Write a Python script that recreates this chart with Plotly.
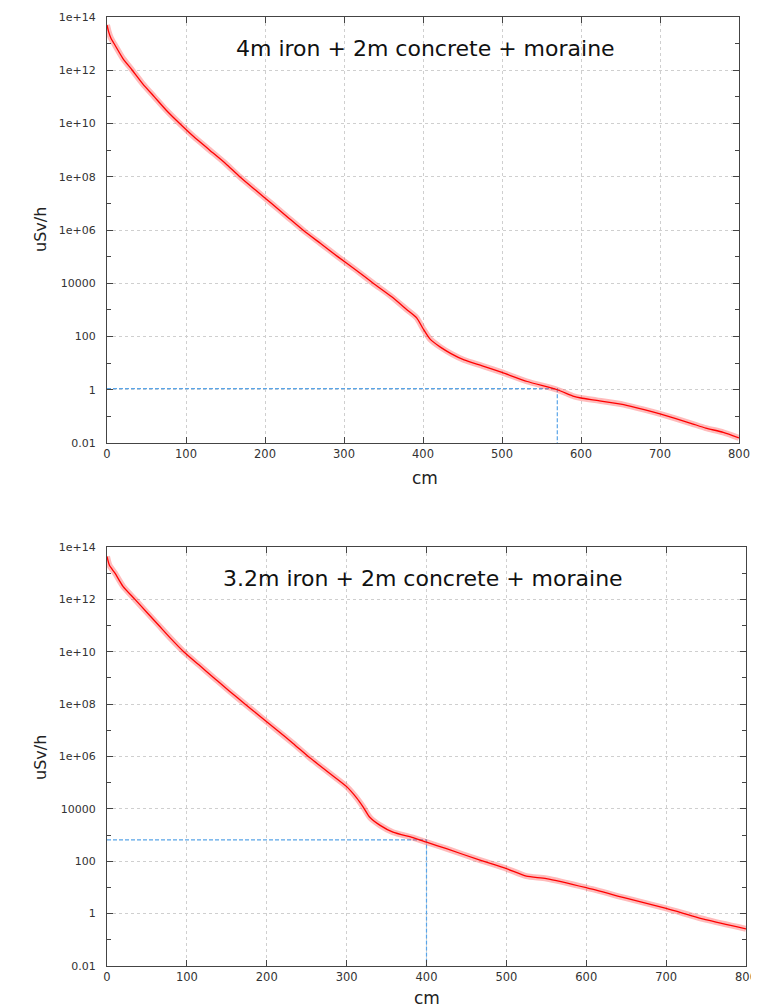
import plotly.graph_objects as go

# ---- data (log10 of uSv/h vs cm) ----
top_cm = [0, 2, 5, 10, 20, 32, 45, 60, 75, 92, 110, 130, 150, 168, 188, 208, 228, 248,
          270, 292, 315, 337, 360, 380, 392, 400, 409, 422, 436, 452, 475, 500, 532,
          570, 591, 600, 620, 654, 680, 700, 738, 758, 780, 800]
top_log = [13.7, 13.45, 13.2, 12.95, 12.45, 12.0, 11.5, 11.0, 10.5, 10.0, 9.5, 9.0, 8.5,
           8.0, 7.5, 7.0, 6.5, 6.0, 5.5, 5.0, 4.5, 4.0, 3.5, 3.0, 2.7, 2.3, 1.9, 1.6, 1.35,
           1.12, 0.9, 0.65, 0.31, 0.0, -0.25, -0.31, -0.4, -0.56, -0.75, -0.91, -1.25,
           -1.44, -1.6, -1.81]

bot_cm = [0, 3, 10, 20, 35, 50, 65, 80, 96, 115, 134, 153, 173, 193, 213, 233, 254, 277,
          300, 312, 321, 329, 342, 358, 383, 400, 425, 467, 500, 525, 550, 600, 651,
          700, 751, 800]
bot_log = [13.64, 13.3, 13.0, 12.5, 12.0, 11.5, 11.0, 10.5, 10.0, 9.5, 9.0, 8.5, 8.0,
           7.5, 7.0, 6.5, 5.95, 5.4, 4.85, 4.44, 4.06, 3.68, 3.37, 3.11, 2.9, 2.73,
           2.48, 2.04, 1.72, 1.43, 1.34, 0.99, 0.58, 0.2, -0.24, -0.58]

# guide lines (dashed blue)
top_guide_x = [0, 570, 570]
top_guide_y = [1.1, 1.1, 0.01]
bot_guide_x = [0, 400, 400]
bot_guide_y = [650, 650, 0.01]

titles = ["4m iron + 2m concrete + moraine", "3.2m iron + 2m concrete + moraine"]
ytick_vals = [1e14, 1e12, 1e10, 1e8, 1e6, 1e4, 1e2, 1, 0.01]
ytick_text = ["1e+14", "1e+12", "1e+10", "1e+08", "1e+06", "10000", "100", "1", "0.01"]
xtick_vals = [0, 100, 200, 300, 400, 500, 600, 700, 800]

RED = "#ff0000"
BAND = "rgba(255,60,60,0.35)"
BLUE = "#5aa5e8"

fig = go.Figure()

def add_curve(xs, logs, xa, ya):
    ys = [10 ** v for v in logs]
    fig.add_trace(go.Scatter(x=xs, y=ys, mode="lines", xaxis=xa, yaxis=ya,
                             line=dict(color=BAND, width=6, shape="spline", smoothing=0.6),
                             hoverinfo="skip", showlegend=False))
    fig.add_trace(go.Scatter(x=xs, y=ys, mode="lines", xaxis=xa, yaxis=ya,
                             line=dict(color=RED, width=1.3, shape="spline", smoothing=0.6),
                             showlegend=False))

fig.add_trace(go.Scatter(x=top_guide_x, y=top_guide_y, mode="lines", xaxis="x", yaxis="y",
                         line=dict(color=BLUE, width=1.2, dash="4px,2px"), showlegend=False))
fig.add_trace(go.Scatter(x=bot_guide_x, y=bot_guide_y, mode="lines", xaxis="x2", yaxis="y2",
                         line=dict(color=BLUE, width=1.2, dash="4px,2px"), showlegend=False))
add_curve(top_cm, top_log, "x", "y")
add_curve(bot_cm, bot_log, "x2", "y2")

OFF = 8  # page body margin
W, H = 751, 999
ml, mr, mt, mb = 107 - OFF, 13, 17 - OFF, 41
pw = W - ml - mr
ph = H - mt - mb

GRID = "#cfcfcf"

def xaxis(domain_end):
    return dict(domain=[0, domain_end], range=[0, 800], tickvals=xtick_vals,
                ticks="inside", ticklen=6, tickcolor="#444", mirror="ticks",
                showline=True, linecolor="#444", linewidth=1, automargin=False,
                showgrid=True, gridcolor=GRID, griddash="dot", gridwidth=1,
                zeroline=False, tickfont=dict(family="DejaVu Sans", size=11.5, color="#333"))

def yaxis(domain, anchor):
    return dict(domain=domain, type="log", range=[-2, 14], tickvals=ytick_vals,
                ticktext=ytick_text, ticks="inside", ticklen=6, tickcolor="#444",
                mirror="ticks", showline=True, linecolor="#444", linewidth=1,
                showgrid=True, gridcolor=GRID, griddash="dot", gridwidth=1,
                zeroline=False, anchor=anchor, ticklabelstandoff=8, automargin=False,
                minor=dict(dtick=1, ticks="inside", ticklen=4, tickcolor="#444", showgrid=False),
                tickfont=dict(family="DejaVu Sans", size=11, color="#333"))

top_dom = [(966 - 443) / ph, 1.0]
bot_dom = [0, (966 - 547) / ph]

fig.update_layout(
    template="none",
    width=W, height=H, margin=dict(l=ml, r=mr, t=mt, b=mb, autoexpand=False),
    paper_bgcolor="white", plot_bgcolor="white",
    xaxis=dict(xaxis((739 - 107) / pw), anchor="y"),
    yaxis=yaxis(top_dom, "x"),
    xaxis2=dict(xaxis(1.0), anchor="y2"),
    yaxis2=yaxis(bot_dom, "x2"),
)

def py(pix):  # screen pixel y -> paper y
    return (H - mb - (pix - OFF)) / ph

def px(pix):  # screen pixel x -> paper x
    return (pix - OFF - ml) / pw

def note(text, xc, yc, size, angle=0, color="#222"):
    return dict(text=text, x=px(xc), y=py(yc), xref="paper", yref="paper",
                xanchor="center", yanchor="middle", textangle=angle, showarrow=False,
                font=dict(family="DejaVu Sans", size=size, color=color))

ann = [note(titles[0], 425, 48, 22, color="#111"),
       note(titles[1], 423, 578, 22, color="#111"),
       note("uSv/h", 40, 230, 16, angle=-90),
       note("uSv/h", 40, 758, 16, angle=-90),
       note("cm", 425, 478, 17),
       note("cm", 427, 998, 17)]
fig.update_layout(annotations=ann)

fig.write_html("out.html")
